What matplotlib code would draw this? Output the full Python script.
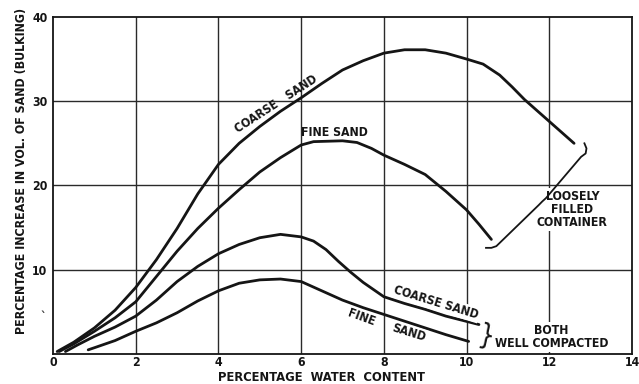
import matplotlib
matplotlib.use("Agg")
import matplotlib.pyplot as plt
from matplotlib import font_manager as fm

# ---- data ----
coarse_loose_x = [0.1, 0.5, 1.0, 1.5, 2.0, 2.5, 3.0, 3.5, 4.0, 4.5, 5.0, 5.5, 6.0, 6.5, 7.0, 7.5, 8.0, 8.5, 9.0, 9.5, 10.0, 10.4, 10.8, 11.1, 11.4, 11.7, 12.0, 12.3, 12.6]
coarse_loose_y = [0.3, 1.4, 3.1, 5.2, 7.9, 11.2, 14.9, 19.0, 22.5, 25.0, 27.0, 28.8, 30.4, 32.1, 33.7, 34.8, 35.7, 36.1, 36.1, 35.7, 35.0, 34.4, 33.1, 31.7, 30.2, 28.9, 27.6, 26.3, 25.0]

fine_loose_x = [0.15, 0.5, 1.0, 1.5, 2.0, 2.5, 3.0, 3.5, 4.0, 4.5, 5.0, 5.5, 6.0, 6.3, 7.0, 7.35, 7.7, 8.0, 8.5, 9.0, 9.5, 10.0, 10.3, 10.6]
fine_loose_y = [0.3, 1.2, 2.7, 4.3, 6.2, 9.2, 12.2, 14.9, 17.3, 19.5, 21.6, 23.3, 24.8, 25.2, 25.3, 25.1, 24.4, 23.6, 22.5, 21.3, 19.3, 17.1, 15.4, 13.6]

coarse_comp_x = [0.3, 0.6, 1.0, 1.5, 2.0, 2.5, 3.0, 3.5, 4.0, 4.5, 5.0, 5.5, 6.0, 6.3, 6.6, 6.9, 7.2, 7.5, 8.0, 8.5, 9.0, 9.5, 10.3]
coarse_comp_y = [0.3, 1.1, 2.1, 3.2, 4.5, 6.4, 8.6, 10.4, 11.9, 13.0, 13.8, 14.2, 13.9, 13.4, 12.4, 11.0, 9.7, 8.5, 6.8, 6.0, 5.3, 4.5, 3.5]

fine_comp_x = [0.85, 1.0, 1.5, 2.0, 2.5, 3.0, 3.5, 4.0, 4.5, 5.0, 5.5, 6.0, 6.5, 7.0, 7.5, 8.0, 8.5, 9.0, 9.5, 10.05]
fine_comp_y = [0.5, 0.75, 1.6, 2.7, 3.7, 4.9, 6.3, 7.5, 8.4, 8.8, 8.9, 8.6, 7.5, 6.4, 5.5, 4.7, 3.9, 3.1, 2.3, 1.5]

x_ticks = [0, 2, 4, 6, 8, 10, 12, 14]
y_ticks = [10, 20, 30, 40]

# ---- font choice: narrow bold lettering if available ----
names = {(f.name, str(f.stretch)) for f in fm.fontManager.ttflist}
all_names = {f.name for f in fm.fontManager.ttflist}
if "Liberation Sans Narrow" in all_names:
    FAM, STRETCH, WEIGHT, SCALE = "Liberation Sans Narrow", "normal", "bold", 1.0
elif ("DejaVu Sans", "condensed") in names or ("DejaVu Sans", "semi-condensed") in names:
    FAM, STRETCH, WEIGHT, SCALE = "DejaVu Sans", "condensed", "bold", 0.84
else:
    FAM, STRETCH, WEIGHT, SCALE = "DejaVu Sans", "normal", "normal", 0.84

plt.rcParams["font.family"] = [FAM, "DejaVu Sans"]
plt.rcParams["font.stretch"] = STRETCH
plt.rcParams["font.weight"] = WEIGHT

def fs(v):
    return v * SCALE

fig = plt.figure(figsize=(6.39, 3.84), dpi=100)
ax = fig.add_axes([0.083, 0.078, 0.906, 0.878])
ax.set_xlim(0, 14)
ax.set_ylim(0, 40)

ink = "#151515"
for gx in x_ticks[1:-1]:
    ax.axvline(gx, color="#2a2a2a", lw=1.0, zorder=1)
for gy in y_ticks[:-1]:
    ax.axhline(gy, color="#2a2a2a", lw=1.0, zorder=1)
for s in ax.spines.values():
    s.set_linewidth(1.3)
    s.set_color(ink)

ax.set_xticks(x_ticks)
ax.set_xticklabels([str(v) for v in x_ticks])
ax.set_yticks(y_ticks)
ax.set_yticklabels([str(v) for v in y_ticks])
ax.tick_params(length=0, labelsize=fs(10.5), colors=ink)
ax.tick_params(axis="x", pad=1.5)
ax.tick_params(axis="y", pad=4)

for xs, ys in [(coarse_loose_x, coarse_loose_y), (fine_loose_x, fine_loose_y),
               (coarse_comp_x, coarse_comp_y), (fine_comp_x, fine_comp_y)]:
    ax.plot(xs, ys, color=ink, lw=2.0, solid_capstyle="round", solid_joinstyle="round", zorder=3)

tkw = dict(fontsize=fs(10.5), color=ink, zorder=4)
wb = dict(facecolor="white", edgecolor="none", pad=1.0)

ax.text(5.39, 29.7, "COARSE   SAND", rotation=33, ha="center", va="center", rotation_mode="anchor", **tkw)
ax.text(6.81, 26.3, "FINE SAND", ha="center", va="center", **tkw)
ax.text(9.26, 6.1, "COARSE SAND", rotation=-17, ha="center", va="center", rotation_mode="anchor", bbox=wb, **tkw)
ax.text(7.45, 4.3, "FINE", rotation=-20, ha="center", va="center", rotation_mode="anchor", **tkw)
ax.text(8.6, 2.5, "SAND", rotation=-17, ha="center", va="center", rotation_mode="anchor", bbox=wb, **tkw)

ax.text(12.56, 17.1, "LOOSELY\nFILLED\nCONTAINER", ha="center", va="center", linespacing=1.0,
        bbox=dict(facecolor="white", edgecolor="none", pad=1.5), **tkw)
ax.text(12.05, 2.0, "BOTH\nWELL COMPACTED", ha="center", va="center", linespacing=1.0,
        bbox=dict(facecolor="white", edgecolor="none", pad=1.5), **tkw)

# brace for loosely filled container
brace_x = [12.85, 12.9, 12.88, 12.77, 11.92, 11.83, 11.75, 10.72, 10.6, 10.47]
brace_y = [25.0, 24.4, 23.8, 23.4, 18.5, 18.1, 17.7, 12.8, 12.6, 12.6]
ax.plot(brace_x, brace_y, color=ink, lw=1.3, zorder=5)

# small brace for compacted
ax.text(10.47, 2.0, "}", fontsize=20, rotation=-12, ha="center", va="center", color=ink,
        fontweight="normal", zorder=5)

fig.text(0.503, 0.016, "PERCENTAGE  WATER  CONTENT", ha="center", va="center", fontsize=fs(11), color=ink)
fig.text(0.034, 0.556, "PERCENTAGE INCREASE IN VOL. OF SAND (BULKING)", rotation=90,
         ha="center", va="center", fontsize=fs(10.6), color=ink)
fig.text(0.064, 0.165, "`", fontsize=9, color="#333333")

fig.savefig("out.png", dpi=100)
